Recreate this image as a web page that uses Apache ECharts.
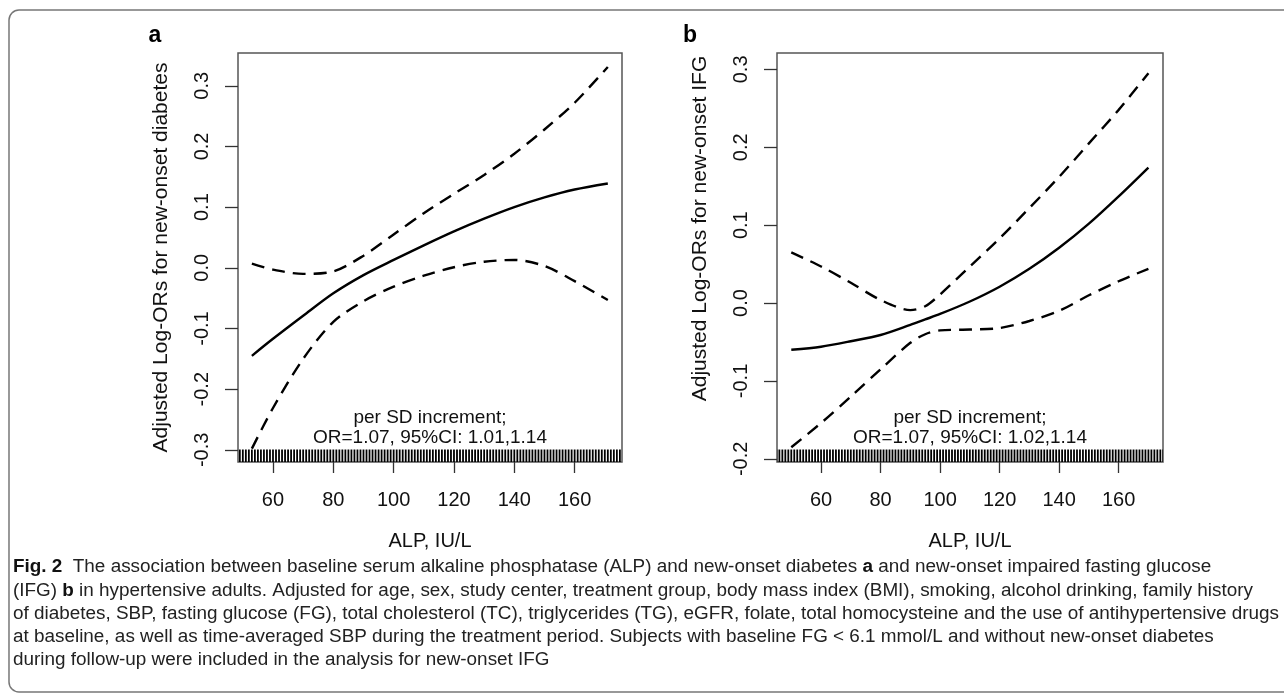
<!DOCTYPE html>
<html>
<head>
<meta charset="utf-8">
<script src="https://cdn.jsdelivr.net/npm/echarts@6.0.0/dist/echarts.min.js"></script>
<style>
  html, body { margin: 0; padding: 0; background: #fff; }
  #chart { width: 1284px; height: 695px; }
</style>
</head>
<body>
<div id="chart"></div>
<script>
var alpTicks = [60, 80, 100, 120, 140, 160];
var yTicksA = [-0.3, -0.2, -0.1, 0, 0.1, 0.2, 0.3];
var yTicksB = [-0.2, -0.1, 0, 0.1, 0.2, 0.3];

// panel a: new-onset diabetes
var alpA = [53, 60, 70, 80, 90, 100, 110, 120, 130, 140, 150, 160, 171];
var fitA = [-0.145, -0.117, -0.079, -0.042, -0.012, 0.013, 0.037, 0.060, 0.081, 0.100, 0.116, 0.129, 0.139];
var upperA = [0.007, -0.003, -0.010, -0.006, 0.020, 0.055, 0.090, 0.122, 0.153, 0.188, 0.228, 0.272, 0.331];
var lowerA = [-0.298, -0.231, -0.150, -0.089, -0.055, -0.031, -0.013, 0.001, 0.010, 0.013, 0.003, -0.022, -0.053];

// panel b: new-onset IFG
var alpB = [50, 60, 70, 80, 90, 95, 100, 110, 120, 130, 140, 150, 160, 170];
var fitB = [-0.060, -0.056, -0.049, -0.041, -0.028, -0.021, -0.014, 0.002, 0.021, 0.044, 0.071, 0.102, 0.137, 0.174];
var upperB = [0.065, 0.047, 0.026, 0.004, -0.009, -0.004, 0.011, 0.047, 0.083, 0.122, 0.162, 0.205, 0.248, 0.295];
var lowerB = [-0.185, -0.154, -0.120, -0.085, -0.051, -0.040, -0.035, -0.034, -0.032, -0.023, -0.010, 0.010, 0.028, 0.044];

// rug of observed ALP values (IU/L)
var rugALP = [45, 46, 47, 48, 49, 50, 51, 52, 53, 54, 55, 56, 57, 58, 59, 60, 61, 62, 63, 64,
  65, 66, 67, 68, 69, 70, 71, 72, 73, 74, 75, 76, 77, 78, 79, 80, 81, 82, 83, 84, 85, 86, 87,
  88, 89, 90, 91, 92, 93, 94, 95, 96, 97, 98, 99, 100, 101, 102, 103, 104, 105, 106, 107, 108,
  109, 110, 111, 112, 113, 114, 115, 116, 117, 118, 119, 120, 121, 122, 123, 124, 125, 126, 127,
  128, 129, 130, 131, 132, 133, 134, 135, 136, 137, 138, 139, 140, 141, 142, 143, 144, 145, 146,
  147, 148, 149, 150, 151, 152, 153, 154, 155, 156, 157, 158, 159, 160, 161, 162, 163, 164, 165,
  166, 167, 168, 169, 170, 171, 172, 173, 174, 175];

var noteA = ['per SD increment;', 'OR=1.07, 95%CI: 1.01,1.14'];
var noteB = ['per SD increment;', 'OR=1.07, 95%CI: 1.02,1.14'];

var captionLines = [
  '{b|Fig. 2}  The association between baseline serum alkaline phosphatase (ALP) and new-onset diabetes {b|a} and new-onset impaired fasting glucose',
  '(IFG) {b|b} in hypertensive adults. Adjusted for age, sex, study center, treatment group, body mass index (BMI), smoking, alcohol drinking, family history',
  'of diabetes, SBP, fasting glucose (FG), total cholesterol (TC), triglycerides (TG), eGFR, folate, total homocysteine and the use of antihypertensive drugs',
  'at baseline, as well as time-averaged SBP during the treatment period. Subjects with baseline FG < 6.1 mmol/L and without new-onset diabetes',
  'during follow-up were included in the analysis for new-onset IFG'
];

var FONT = 'Liberation Sans, Arial, sans-serif';
var INK = '#111';

function zip(xs, ys) {
  return xs.map(function (x, i) { return [x, ys[i]]; });
}

function xAxisFor(gridIndex, min, max) {
  return {
    type: 'value', gridIndex: gridIndex, min: min, max: max,
    name: 'ALP, IU/L', nameLocation: 'middle', nameGap: 69,
    nameTextStyle: { fontFamily: FONT, fontSize: 20, color: INK },
    axisLine: { show: false, onZero: false },
    splitLine: { show: false },
    axisTick: { show: true, length: 11, inside: false, customValues: alpTicks,
      lineStyle: { color: '#333', width: 1.3 } },
    axisLabel: { customValues: alpTicks, margin: 28, fontFamily: FONT, fontSize: 20, color: INK }
  };
}

function yAxisFor(gridIndex, min, max, ticks, name, shiftUp) {
  return {
    type: 'value', gridIndex: gridIndex, min: min, max: max,
    name: name, nameLocation: 'middle', nameGap: 66,
    nameTextStyle: { fontFamily: FONT, fontSize: 21, color: INK, padding: [0, 0, 0, shiftUp * 2] },
    axisLine: { show: false, onZero: false },
    splitLine: { show: false },
    axisTick: { show: true, length: 13, customValues: ticks,
      lineStyle: { color: '#333', width: 1.3 } },
    axisLabel: {
      customValues: ticks, rotate: 90, margin: 26,
      fontFamily: FONT, fontSize: 20, color: INK,
      formatter: function (v) { return v.toFixed(1); }
    }
  };
}

function curve(idx, xs, ys, dashed) {
  return {
    type: 'line', xAxisIndex: idx, yAxisIndex: idx,
    data: zip(xs, ys), smooth: 0.3, symbol: 'none', silent: true,
    lineStyle: { color: '#000', width: 2.4, type: dashed ? [13, 8] : 'solid' }
  };
}

function rug(idx, yMin) {
  return {
    type: 'custom', xAxisIndex: idx, yAxisIndex: idx, clip: true, silent: true,
    data: rugALP.map(function (v) { return [v, yMin]; }),
    renderItem: function (params, api) {
      var p = api.coord([api.value(0), api.value(1)]);
      return {
        type: 'line',
        shape: { x1: p[0], y1: p[1], x2: p[0], y2: p[1] - 12.5 },
        style: { stroke: '#000', lineWidth: 1.8 }
      };
    }
  };
}

function noteText(cx, lines) {
  return lines.map(function (t, i) {
    return {
      type: 'text', x: cx, y: 418 + i * 20,
      style: { text: t, fontFamily: FONT, fontSize: 19, fill: INK, align: 'center', verticalAlign: 'middle' }
    };
  });
}

var yMinA = -0.320, yMaxA = 0.354;
var yMinB = -0.204, yMaxB = 0.321;

var graphics = [
  {
    type: 'rect', shape: { x: 9, y: 10, width: 1300, height: 682, r: 10 },
    style: { fill: 'none', stroke: '#777', lineWidth: 1.5 }
  },
  { type: 'text', x: 155, y: 36, style: { text: 'a', fontFamily: FONT, fontSize: 23, fontWeight: 'bold', fill: '#000', align: 'center', verticalAlign: 'middle' } },
  { type: 'text', x: 690, y: 36, style: { text: 'b', fontFamily: FONT, fontSize: 23, fontWeight: 'bold', fill: '#000', align: 'center', verticalAlign: 'middle' } }
];
graphics = graphics.concat(noteText(430, noteA), noteText(970, noteB));
captionLines.forEach(function (t, i) {
  graphics.push({
    type: 'text', x: 13, y: 567 + i * 23.3,
    style: {
      text: t, fontFamily: FONT, fontSize: 18.9, fill: '#222', verticalAlign: 'middle',
      rich: { b: { fontWeight: 'bold', fontFamily: FONT, fontSize: 18.9, fill: '#111' } }
    }
  });
});

var chart = echarts.init(document.getElementById('chart'), null, { renderer: 'canvas' });
chart.setOption({
  animation: false,
  backgroundColor: '#fff',
  grid: [
    { left: 238, top: 53, width: 384, height: 409, show: true, borderColor: '#555', borderWidth: 1.5, backgroundColor: 'transparent' },
    { left: 777, top: 53, width: 386, height: 409, show: true, borderColor: '#555', borderWidth: 1.5, backgroundColor: 'transparent' }
  ],
  xAxis: [xAxisFor(0, 48.4, 175.7), xAxisFor(1, 45.2, 174.9)],
  yAxis: [
    yAxisFor(0, yMinA, yMaxA, yTicksA, 'Adjusted Log-ORs for new-onset diabetes', 0),
    yAxisFor(1, yMinB, yMaxB, yTicksB, 'Adjusted Log-ORs for new-onset IFG', 29)
  ],
  series: [
    rug(0, yMinA),
    curve(0, alpA, fitA, false),
    curve(0, alpA, upperA, true),
    curve(0, alpA, lowerA, true),
    rug(1, yMinB),
    curve(1, alpB, fitB, false),
    curve(1, alpB, upperB, true),
    curve(1, alpB, lowerB, true)
  ],
  graphic: graphics
});
</script>
</body>
</html>
